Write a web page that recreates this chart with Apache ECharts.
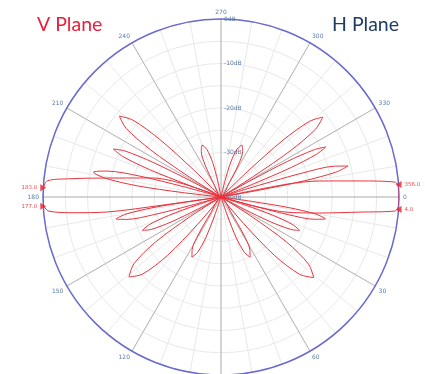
<!DOCTYPE html>
<html>
<head>
<meta charset="utf-8">
<script src="https://cdn.jsdelivr.net/npm/echarts@6/dist/echarts.min.js"></script>
<style>
  html, body { margin: 0; padding: 0; background: #fff; }
  #container { width: 425px; height: 374px; }
</style>
</head>
<body>
<div id="container"></div>
<script>
// pattern as [angle (deg, clockwise from 0 at right), level dB]
// every petal starts and ends in the centre (-40dB)
const mainLobeRight = [[0,-40],[13.2,-25.2],[9.2,-17.5],[6.2,-8.6],[4.6,-0.8],[2.3,0],[0,0],[357.7,0],[355.1,-0.8],[353.4,-8.6],[350.8,-17.5],[349.0,-24.7],[348,-40]];
const upperRightLobes = [
	[342.8,-31.2],[343.6,-20.9],[344.8,-13.6],[346.3,-10.6],[347.8,-13.6],[349.0,-20.9],[349.8,-31.2],[346,-40],
	[331.0,-32.2],[331.8,-23.1],[333.1,-16.5],[334.5,-13.9],[335.9,-16.5],[337.2,-23.1],[338.0,-32.2],[334,-40],
	[316.2,-31.3],[317.5,-21.1],[319.5,-13.8],[321.9,-10.9],[324.3,-13.8],[326.3,-21.1],[327.6,-31.3],[322,-40],
	[283.9,-36.2],[285.7,-31.8],[288.6,-28.7],[292,-27.4],[295.4,-28.7],[298.3,-31.8],[300.1,-36.2],[292,-40]
];
const upperLeftLobes = [
	[241.7,-36.3],[243.6,-32.0],[246.5,-28.9],[250,-27.6],[253.5,-28.9],[256.4,-32.0],[258.3,-36.3],[250,-40],
	[212.3,-31.2],[213.8,-21.0],[215.9,-13.7],[218.5,-10.8],[221.1,-13.7],[223.2,-21.0],[224.7,-31.2],[218,-40],
	[200.1,-32.1],[201.0,-22.8],[202.4,-16.1],[204,-13.5],[205.6,-16.1],[207.0,-22.8],[207.9,-32.1],[204,-40],
	[186.6,-31.2],[187.6,-21.0],[189.2,-13.7],[191,-10.8],[192.8,-13.7],[194.4,-21.0],[195.4,-31.2],[191,-40]
];
const mainLobeLeft = [[195.6,-24.1],[188.9,-12.5],[186.8,-5.5],[185.3,-0.8],[182,0],[180,0],[178,0],[175.3,-1.2],[173.9,-6.8],[172.5,-14.2],[172.1,-26.9],[172,-40]];
const lowerLeftLobes = [
	[164.5,-32.8],[165.3,-24.3],[166.6,-18.3],[168.2,-15.9],[169.8,-18.3],[171.1,-24.3],[171.9,-32.8],[168,-40],
	[152.3,-34.2],[153.4,-27.5],[155.1,-22.7],[157,-20.8],[158.9,-22.7],[160.6,-27.5],[161.7,-34.2],[157,-40],
	[130.6,-31.8],[132.5,-22.2],[135.5,-15.3],[139,-12.6],[142.5,-15.3],[145.5,-22.2],[147.5,-31.8],[139,-40],
	[108.9,-35.5],[110.5,-30.3],[112.9,-26.5],[115.8,-25.0],[118.7,-26.5],[121.1,-30.3],[122.7,-35.5],[116,-40]
];
const lowerRightLobes = [
	[57.3,-35.5],[58.9,-30.3],[61.3,-26.5],[64.2,-25.0],[67.1,-26.5],[69.5,-30.3],[71.1,-35.5],[64,-40],
	[32.6,-31.7],[34.5,-22.1],[37.5,-15.2],[41,-12.4],[44.5,-15.2],[47.5,-22.1],[49.4,-31.7],[41,-40],
	[18.3,-34.2],[19.4,-27.5],[21.1,-22.7],[23,-20.8],[24.9,-22.7],[26.6,-27.5],[27.7,-34.2],[23,-40],
	[8.1,-32.8],[8.9,-24.4],[10.2,-18.4],[11.8,-16.0],[13.4,-18.4],[14.7,-24.4],[15.5,-32.8],[12,-40]
];
// beamwidth markers on the rim
const markerAngles = [356, 4, 183, 177];
const markerLabels = ['356.0', '4.0', '183.0', '177.0'];

const chart = echarts.init(document.getElementById('container'));

// axis runs from the top clockwise, plot angles have 0 at the right
function toAxis(a) { return (a + 90) % 360; }
function toPlot(v) { return (v + 270) % 360; }

const pattern = [].concat(mainLobeRight, upperRightLobes, upperLeftLobes, mainLobeLeft, lowerLeftLobes, lowerRightLobes)
	.map(function (p) { return [p[1], toAxis(p[0])]; });

const markers = markerAngles.map(function (a, i) {
	const right = a < 90 || a > 270;
	return {
		value: [0, toAxis(a)],
		symbolRotate: right ? 90 : -90,
		label: { position: right ? 'right' : 'left', formatter: markerLabels[i] }
	};
});

const center = [221, 197];
const radius = 178;

const option = {
	animation: false,
	title: [
		{ text: 'V Plane', left: 37, top: 15, padding: 0, textStyle: { color: '#e8213e', fontSize: 19.5, fontWeight: 'normal', fontFamily: 'Lato' } },
		{ text: 'H Plane', left: 332, top: 15, padding: 0, textStyle: { color: '#1e3d63', fontSize: 19.5, fontWeight: 'normal', fontFamily: 'Lato' } }
	],
	polar: [
		{ center: center, radius: radius },
		{ center: center, radius: radius }
	],
	angleAxis: [
		{
			polarIndex: 0, type: 'value', min: 0, max: 360, interval: 10,
			startAngle: 90, clockwise: true,
			axisLine: { show: false }, axisTick: { show: false }, axisLabel: { show: false },
			splitLine: { lineStyle: { color: '#e8e8e8', width: 1 } }
		},
		{
			polarIndex: 1, type: 'value', min: 0, max: 360, interval: 30,
			startAngle: 90, clockwise: true,
			axisLine: { lineStyle: { color: '#6a6ad0', width: 1.5 } },
			axisTick: { show: false },
			axisLabel: {
				margin: 4, fontSize: 6, color: '#5b7ca3', fontFamily: 'DejaVu Sans',
				formatter: function (v) { return v === 360 ? '' : String(toPlot(v)); }
			},
			splitLine: { lineStyle: { color: '#b4b4b4', width: 1 } }
		}
	],
	radiusAxis: [
		{
			polarIndex: 0, type: 'value', min: -40, max: 0, interval: 5,
			axisLine: { show: false }, axisTick: { show: false },
			axisLabel: {
				align: 'left', margin: -3,
				fontSize: 6, color: '#5b7ca3', fontFamily: 'DejaVu Sans',
				formatter: function (v) { return v % 10 === 0 ? v + 'dB' : ''; }
			},
			splitLine: { lineStyle: { color: '#e8e8e8', width: 1 } }
		},
		{
			polarIndex: 1, type: 'value', min: -40, max: 0,
			axisLine: { show: false }, axisTick: { show: false }, axisLabel: { show: false },
			splitLine: { show: false }
		}
	],
	series: [
		{
			type: 'line', coordinateSystem: 'polar', polarIndex: 1,
			data: pattern, symbol: 'none', smooth: 0.3,
			lineStyle: { color: '#e8333d', width: 1 }
		},
		{
			type: 'scatter', coordinateSystem: 'polar', polarIndex: 1,
			data: markers, symbol: 'triangle', symbolSize: [7, 6],
			itemStyle: { color: '#e8202a' },
			label: { show: true, fontSize: 5.5, color: '#e8202a', distance: 3, fontFamily: 'DejaVu Sans' }
		}
	]
};
chart.setOption(option);
</script>
</body>
</html>
